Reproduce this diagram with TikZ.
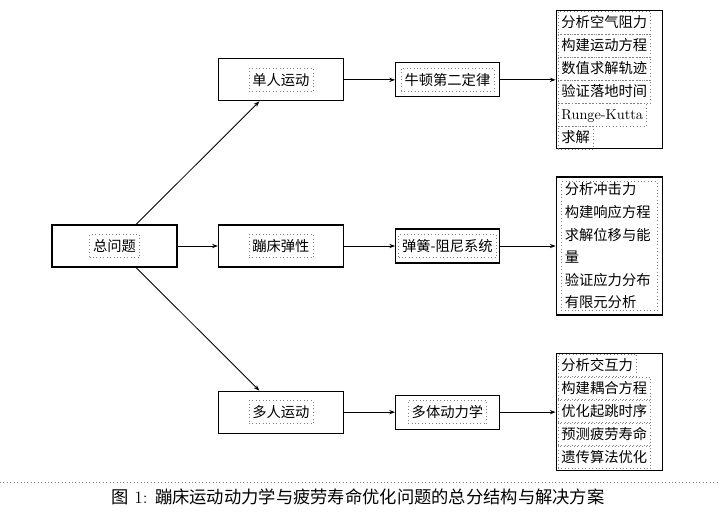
\documentclass[tikz,border=0pt]{standalone}
\usepackage{fontspec}
\usetikzlibrary{positioning,arrows.meta}
\newfontfamily\cjk{Noto Sans CJK SC}

\tikzset{
  mainbox/.style={draw, line width=0.8pt, minimum width=87.5pt, minimum height=29.4pt},
  subbox/.style={draw, line width=0.9pt, minimum width=72.5pt, minimum height=23.8pt},
  listbox/.style={draw, line width=0.8pt, minimum width=74.2pt, anchor=west},
  tbox/.style={draw=gray, dotted, font=\cjk, inner xsep=2.5pt, inner ysep=3pt,
    text height=8.8pt, text depth=1.2pt},
  arr/.style={-{Stealth[length=4pt,width=3pt]}, line width=0.6pt},
}

\begin{document}
\begin{tikzpicture}[x=0.7pt, y=-0.7pt]
  \useasboundingbox (0,0) rectangle (720,522);
  % first column
  \node [mainbox] (zong) at (114.5,246) {};
  \node [tbox] at (zong) {总问题};
  % second column
  \node [mainbox, right=28.2pt of zong] (beng) {};
  \node [mainbox, above=86.1pt of beng] (dan) {};
  \node [mainbox, below=86.1pt of beng] (duo) {};
  \node [tbox] at (dan) {单人运动};
  \node [tbox] at (beng) {蹦床弹性};
  \node [tbox] at (duo) {多人运动};
  % models
  \node [subbox, right=35.7pt of dan] (niu) {};
  \node [subbox, right=35.7pt of beng] (tan) {};
  \node [subbox, right=35.7pt of duo] (duoti) {};
  \node [tbox] at (niu) {牛顿第二定律};
  \node [tbox] at (tan) {弹簧-阻尼系统};
  \node [tbox] at (duoti) {多体动力学};
  % steps
  \node [listbox, minimum height=96.6pt, right=39pt of niu] (buzhou1) {};
  \node [listbox, minimum height=96.6pt, right=39pt of tan] (buzhou2) {};
  \node [listbox, minimum height=81.9pt, right=39pt of duoti] (buzhou3) {};
  \foreach \t [count=\i] in {分析空气阻力, 构建运动方程, 数值求解轨迹, 验证落地时间,
      \normalfont Runge-Kutta, 求解}
    \node [tbox, anchor=north west, xshift=1.4pt, yshift={-(\i-1)*16.1pt-0.3pt}]
      at (buzhou1.north west) {\t};
  \node [draw=gray, dotted, align=left, text width=62pt, inner xsep=2.5pt, inner ysep=1pt,
    font={\cjk\fontsize{10pt}{15.8pt}\selectfont}] at (buzhou2)
    {分析冲击力\\构建响应方程\\求解位移与能\\量\\验证应力分布\\有限元分析};
  \foreach \t [count=\i] in {分析交互力, 构建耦合方程, 优化起跳时序, 预测疲劳寿命, 遗传算法优化}
    \node [tbox, anchor=north west, xshift=1.4pt, yshift={-(\i-1)*16.1pt-0.3pt}]
      at (buzhou3.north west) {\t};
  % connectors
  \draw [arr] (zong) -- (dan);
  \draw [arr] (zong) -- (beng);
  \draw [arr] (zong) -- (duo);
  \draw [arr] (dan) -- (niu);
  \draw [arr] (beng) -- (tan);
  \draw [arr] (duo) -- (duoti);
  \draw [arr] (niu) -- (buzhou1);
  \draw [arr] (tan) -- (buzhou2);
  \draw [arr] (duoti) -- (buzhou3);
  % caption
  \coordinate (fl) at (0,482);
  \coordinate (fr) at (720,482);
  \draw [gray, dotted] (fl) -- (fr);
  \node [font=\fontsize{12.1pt}{14pt}\selectfont] (caption) at (358,497)
    {{\cjk 图} 1: {\cjk 蹦床运动动力学与疲劳寿命优化问题的总分结构与解决方案}};
\end{tikzpicture}
\end{document}
